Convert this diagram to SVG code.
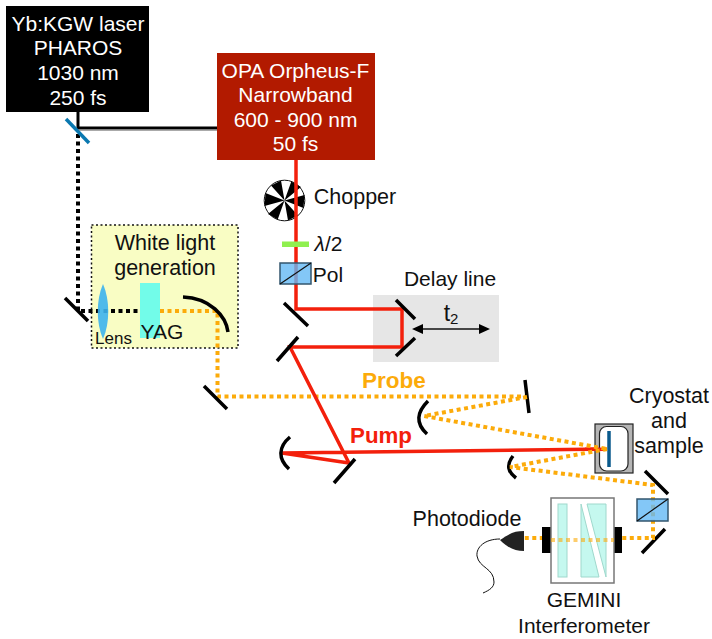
<svg xmlns="http://www.w3.org/2000/svg" width="712" height="639" viewBox="0 0 712 639">
<style>
text{font-family:"Liberation Sans",Arial,sans-serif;font-size:21px;fill:#111;text-anchor:middle}
.w{fill:#fff}
.m{fill:none;stroke:#000;stroke-width:3.500}
.r{fill:none;stroke:#f3200c;stroke-width:3.500}
.o{fill:none;stroke:#fcab0a;stroke-width:4;stroke-dasharray:4 3.500}
.k{fill:none;stroke:#000;stroke-width:4;stroke-dasharray:4 3.500}
.pbs{fill:#64b9f5;fill-opacity:.8;stroke:#33566e;stroke-width:1.500}
</style>
<rect width="712" height="639" fill="#fff"/>
<g id="white-light-box"><rect x="91.500" y="225" width="146.500" height="123" fill="#f9fdc4" stroke="#111" stroke-width="1.500" stroke-dasharray="2 2.500"/></g>
<g id="delay-box"><rect x="373" y="295" width="126" height="67" fill="#e6e6e6"/></g>
<g id="chopper"><circle cx="284.500" cy="200.500" r="20.300" fill="#fff" stroke="#111" stroke-width="1"/><path fill="#000" d="M284.500 200.500L304.500 195L303.500 208ZM284.500 200.500L298 215.500L288 220.500ZM284.500 200.500L277.700 219.500L268 214ZM284.500 200.500L264.500 206L265.500 193ZM284.500 200.500L271 185.500L281 180.500ZM284.500 200.500L291.300 181.500L301 187Z"/><text x="355" y="204" style="font-size:21.500px">Chopper</text></g>
<g id="connectors">
<path d="M78 112V128H217" fill="none" stroke="#000" stroke-width="3"/>
<path d="M78 130.500H217" fill="none" stroke="#aaa" stroke-width="1"/>
<path class="k" d="M78 134V311H140"/>
<path class="o" d="M160 311H217.500V396.500H527"/>
<path class="r" d="M296 160V309H402V347H290L349 463L282 453L607 449"/>
</g>
<g id="laser"><rect x="6" y="6" width="143" height="106" fill="#000"/><text class="w" x="78" y="31">Yb:KGW laser</text><text class="w" x="78" y="55">PHAROS</text><text class="w" x="78" y="80">1030 nm</text><text class="w" x="78" y="105">250 fs</text></g>
<g id="opa"><rect x="217" y="53" width="158" height="107" fill="#b21a00"/><text class="w" x="295.500" y="78">OPA Orpheus-F</text><text class="w" x="295.500" y="102">Narrowband</text><text class="w" x="295.500" y="127">600 - 900 nm</text><text class="w" x="295.500" y="151">50 fs</text></g>
<g id="beam-splitter"><path d="M66 119L89 143" fill="none" stroke="#0a78b0" stroke-width="3.500"/></g>
<g id="waveplate"><rect x="282" y="241.500" width="27" height="5.500" fill="#8ff04f"/><text x="328.500" y="251"><tspan font-style="italic">λ</tspan>/2</text></g>
<g id="polarizer"><rect class="pbs" x="280" y="263" width="31" height="21"/><path d="M280 284L311 263" stroke="#111" stroke-width="1.200"/><text x="328" y="282">Pol</text></g>
<g id="delay-line"><path class="m" d="M284 303L308 326M298 337L277 361M396 300L415 319M415 338L396 356"/><text x="450" y="286">Delay line</text><text x="451" y="321" style="font-size:23px">t<tspan style="font-size:15px" dy="3">2</tspan></text><path d="M420 329H482" fill="none" stroke="#111" stroke-width="1.500"/><path d="M412 329L423 324V334ZM490 329L479 324V334Z" fill="#000"/></g>
<g id="wlg"><path class="m" d="M65 298L88 321"/><path d="M103 284C110 300 110 323 103 339C96 323 96 300 103 284Z" fill="#3cb2ee" fill-opacity=".9"/><rect x="140" y="283" width="20" height="55" fill="#72fce9"/><path class="m" d="M183 297C210 298 226 316 228 332"/><text x="165" y="250" style="font-size:21.500px">White light</text><text x="165" y="275" style="font-size:21.500px">generation</text><text x="113.500" y="344" style="font-size:17px">Lens</text><text x="162" y="339">YAG</text></g>
<g id="probe-optics"><path class="m" d="M204 386L227 409M525 380L529 413"/><path class="m" d="M428 401C417 412 415 423 427 434"/><text x="394" y="388" style="font-weight:700;font-size:22.500px;fill:#fcab0a">Probe</text></g>
<g id="pump-optics"><path class="m" d="M290 437C278 447 278 459 289 469M355 459L334 483"/><text x="381" y="443" style="font-weight:700;font-size:22.300px;fill:#f3200c">Pump</text></g>
<g id="cryostat"><rect x="595" y="424" width="38" height="49" fill="#b5b5b5" stroke="#222" stroke-width="1.200"/><rect x="599.500" y="426.500" width="28.500" height="44.500" rx="7" fill="#fff" stroke="#222" stroke-width="1.200"/><path d="M609 431V467" stroke="#0a5a8c" stroke-width="3.500"/><path class="r" d="M585 449.300H607"/><text x="669" y="403" style="font-size:21.500px">Cryostat</text><text x="669" y="428" style="font-size:21.500px">and</text><text x="669" y="453" style="font-size:21.500px">sample</text></g>
<g id="detection-optics"><path class="m" d="M513 456C506 465 508 472 516 478M645 471L668 494M665 529L642 553"/></g>
<g id="beams-orange"><path class="o" d="M527 397L424 416L607 449"/><path class="o" d="M607 449L510 467L653 485V538H524"/></g>
<g id="polarizer-2"><rect class="pbs" x="637" y="499" width="31" height="22"/><path d="M637 521L668 499" stroke="#111" stroke-width="1.200"/></g>
<g id="gemini"><rect x="542" y="527" width="9" height="26" fill="#000"/><rect x="613" y="527" width="9" height="26" fill="#000"/><rect x="551" y="498" width="63" height="85" fill="#fff" stroke="#777" stroke-width="1.500"/><rect x="558" y="504" width="9" height="73" fill="#c5f8ef" stroke="#9fd8cc"/><path d="M581 504L599 577H581ZM587 504H606V577Z" fill="#c5f8ef" stroke="#9fd8cc"/><path class="o" d="M551 540H614" opacity=".6"/><text x="584" y="607">GEMINI</text><text x="584" y="633">Interferometer</text></g>
<g id="photodiode"><path d="M500 540C510 533 515 531 524 531V551C515 551 508 548 500 540Z" fill="#222"/><path d="M500 539C485 539 476 547 477 556C479 568 494 568 494 582C494 587 490 590 483 593" fill="none" stroke="#111" stroke-width="1"/><text x="467" y="526" style="font-size:21.500px">Photodiode</text></g>
</svg>
